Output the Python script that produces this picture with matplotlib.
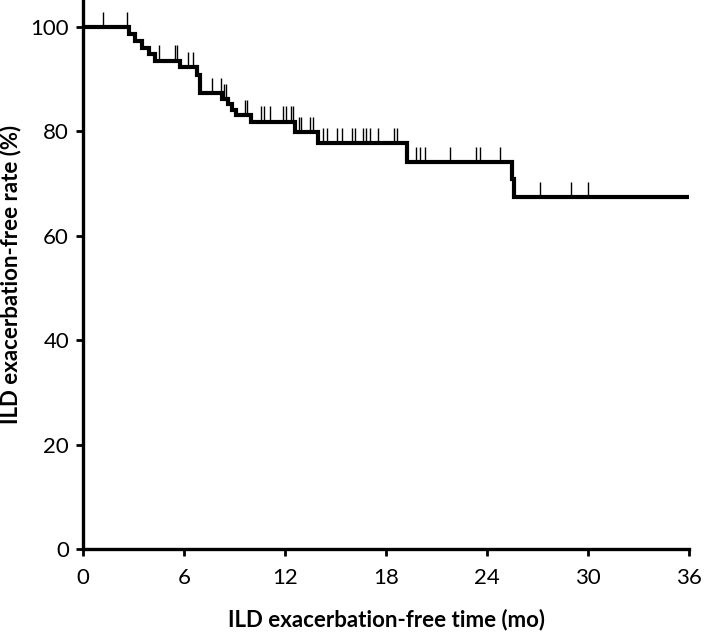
import matplotlib
matplotlib.use("Agg")
import matplotlib.pyplot as plt

# step curve: time (mo) of each drop and level (%) after it
event_times = [0, 2.75, 3.1, 3.5, 3.9, 4.3, 5.76, 6.75, 6.95, 8.25, 8.6, 8.85, 9.1,
               10.0, 12.6, 13.95, 19.27, 25.5, 25.6]
event_levels = [100, 98.6, 97.3, 96.0, 94.8, 93.6, 92.3, 90.9, 87.3, 86.2, 85.2, 84.2, 83.2,
                81.9, 79.9, 77.8, 74.1, 70.8, 67.4]
end_time = 36

# censored observations (tick marks)
censor_times = [1.17, 2.6, 4.52, 5.47, 5.6, 6.22, 6.51, 7.65, 8.18, 8.4, 8.5, 9.63, 9.72,
                10.58, 10.76, 11.1, 11.87, 12.06, 12.36, 12.5, 12.83, 12.93, 13.49, 13.68,
                14.24, 14.52, 15.07, 15.37, 15.96, 16.16, 16.62, 16.81, 17.05, 17.55,
                18.48, 18.64, 19.79, 20.02, 20.32, 21.81, 23.35, 23.55, 24.74,
                27.15, 28.99, 30.02]

x_ticks = [0, 6, 12, 18, 24, 30, 36]
y_ticks = [0, 20, 40, 60, 80, 100]


def level_at(t):
    lvl = event_levels[0]
    for et, el in zip(event_times, event_levels):
        if et <= t:
            lvl = el
    return lvl


plt.rcParams['font.family'] = ['Lato', 'DejaVu Sans']

fig = plt.figure(figsize=(7.09, 6.36), dpi=100)
ax = fig.add_axes([0.117, 0.137, 0.855, 0.863])

ax.step(event_times + [end_time], event_levels + [event_levels[-1]], where='post',
        color='black', lw=3.0, solid_joinstyle='miter')

c_levels = [level_at(t) for t in censor_times]
ax.vlines(censor_times, c_levels, [v + 2.9 for v in c_levels], color='black', lw=1.0)

ax.set_xlim(0, 36)
ax.set_ylim(0, 105.2)
ax.set_xticks(x_ticks)
ax.set_yticks(y_ticks)
ax.tick_params(direction='out', length=5, width=2, labelsize=16, pad=5)
ax.tick_params(axis='x', pad=9)

for side in ['top', 'right']:
    ax.spines[side].set_visible(False)
for side in ['left', 'bottom']:
    ax.spines[side].set_linewidth(2.4)

ax.set_xlabel('ILD exacerbation-free time (mo)', fontsize=16, fontweight='bold', labelpad=15)
ax.set_ylabel('ILD exacerbation-free rate (%)', fontsize=16, fontweight='bold')
ax.yaxis.set_label_coords(-0.101, 0.5)

fig.savefig('out.png', dpi=100)
